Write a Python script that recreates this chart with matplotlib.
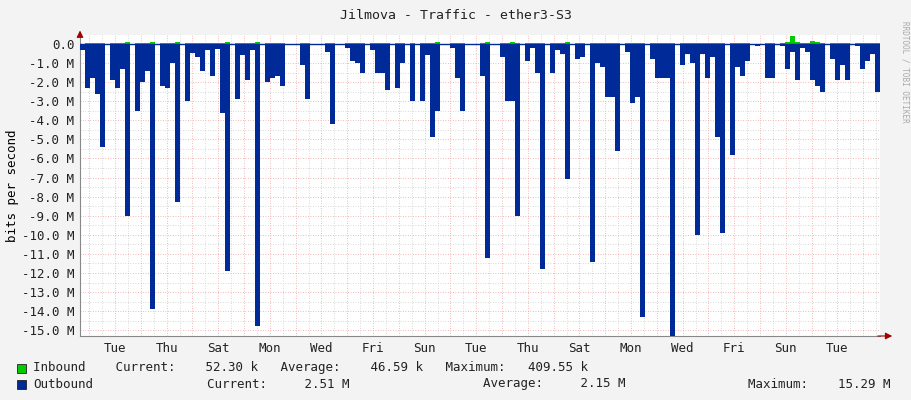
import numpy as np
import matplotlib.pyplot as plt
from matplotlib.ticker import MultipleLocator

# outbound traffic, M bits/s (5px slots), drawn downwards
outbound = [
    0.3, 2.3, 1.8, 2.6, 5.4, 0.0, 1.9, 2.3, 1.3, 9.0,
    0.0, 3.5, 2.0, 1.4, 13.9, 0.0, 2.2, 2.3, 1.0, 8.3,
    0.0, 3.0, 0.45, 0.7, 1.4, 0.3, 1.7, 0.25, 3.6, 11.9,
    0.0, 2.9, 0.6, 1.9, 0.3, 14.8, 0.0, 2.0, 1.8, 1.7,
    2.2, 0.0, 0.0, 0.0, 1.1, 2.9, 0.0, 0.0, 0.0, 0.4,
    4.2, 0.0, 0.0, 0.2, 0.9, 1.0, 1.5, 0.0, 0.3, 1.5,
    1.5, 2.4, 0.0, 2.3, 1.0, 0.0, 3.0, 0.0, 3.0, 0.6,
    4.9, 3.5, 0.0, 0.0, 0.2, 1.8, 3.5, 0.0, 0.0, 0.0,
    1.7, 11.2, 0.0, 0.0, 0.7, 3.0, 3.0, 9.0, 0.0, 0.9,
    0.2, 1.5, 11.8, 0.0, 1.5, 0.3, 0.5, 7.1, 0.0, 0.8,
    0.7, 0.0, 11.4, 1.0, 1.2, 2.8, 2.8, 5.6, 0.0, 0.4,
    3.1, 2.8, 14.3, 0.0, 0.8, 1.8, 1.8, 1.8, 15.3, 0.0,
    1.1, 0.5, 1.0, 10.0, 0.5, 1.8, 0.7, 4.9, 9.9, 0.0,
    5.8, 1.2, 1.7, 0.9, 0.0, 0.1, 0.0, 1.8, 1.8, 0.0,
    0.1, 1.3, 0.4, 1.9, 0.2, 0.4, 1.9, 2.2, 2.5, 0.0,
    0.8, 1.9, 1.1, 1.9, 0.0, 0.1, 1.3, 0.9, 0.5, 2.5,
]
# inbound traffic, M bits/s
inbound = [
    0.0, 0.05, 0.05, 0.05, 0.05, 0.0, 0.05, 0.05, 0.05, 0.1,
    0.0, 0.05, 0.05, 0.05, 0.08, 0.0, 0.05, 0.05, 0.05, 0.08,
    0.0, 0.05, 0.05, 0.05, 0.05, 0.03, 0.05, 0.03, 0.05, 0.08,
    0.0, 0.05, 0.05, 0.05, 0.03, 0.08, 0.0, 0.05, 0.05, 0.05,
    0.05, 0.0, 0.0, 0.0, 0.05, 0.05, 0.0, 0.0, 0.0, 0.03,
    0.05, 0.0, 0.0, 0.03, 0.05, 0.05, 0.05, 0.0, 0.03, 0.05,
    0.05, 0.05, 0.0, 0.05, 0.05, 0.0, 0.05, 0.0, 0.05, 0.05,
    0.05, 0.08, 0.0, 0.0, 0.03, 0.05, 0.05, 0.0, 0.0, 0.0,
    0.05, 0.08, 0.0, 0.0, 0.05, 0.05, 0.08, 0.05, 0.0, 0.05,
    0.03, 0.05, 0.05, 0.0, 0.05, 0.03, 0.05, 0.08, 0.0, 0.05,
    0.05, 0.0, 0.05, 0.05, 0.05, 0.05, 0.05, 0.05, 0.0, 0.03,
    0.05, 0.05, 0.05, 0.0, 0.05, 0.05, 0.05, 0.05, 0.05, 0.0,
    0.05, 0.05, 0.05, 0.05, 0.03, 0.05, 0.05, 0.05, 0.05, 0.0,
    0.05, 0.05, 0.05, 0.05, 0.0, 0.02, 0.0, 0.05, 0.05, 0.0,
    0.05, 0.1, 0.41, 0.1, 0.05, 0.05, 0.15, 0.1, 0.05, 0.0,
    0.05, 0.05, 0.05, 0.05, 0.0, 0.05, 0.05, 0.05, 0.05, 0.05,
]
day_labels = ['Tue', 'Thu', 'Sat', 'Mon', 'Wed', 'Fri', 'Sun', 'Tue',
              'Thu', 'Sat', 'Mon', 'Wed', 'Fri', 'Sun', 'Tue']

day_w = 5.16      # slots per day
first_label = 7.0 # slot position of first label

fig = plt.figure(figsize=(9.11, 4.0), dpi=100, facecolor='#F3F3F3')
ax = fig.add_axes([80 / 911, 64 / 400, 800 / 911, 301 / 400])
ax.set_facecolor('white')

x = np.arange(len(outbound))
ax.bar(x, -np.array(outbound), width=1.0, align='edge', color='#002A97', linewidth=0, zorder=3)
ax.bar(x, inbound, width=1.0, align='edge', color='#00CC00', linewidth=0, zorder=3)
ax.axhline(0, color='#002A97', lw=1, zorder=4)

ax.set_xlim(0, 160)
ax.set_ylim(-15.3, 0.47)

# grid: red major, grey minor
ymaj = np.arange(-15, 0.5, 1.0)
for y in ymaj:
    ax.axhline(y, color='#F0A0A0', lw=0.6, ls=(0, (1, 2)), zorder=1)
for y in ymaj[:-1] + 0.5:
    ax.axhline(y, color='#CCCCCC', lw=0.6, ls=(0, (1, 2)), zorder=1)
days = first_label - day_w + day_w * np.arange(32)
for d in days:
    if 0 < d < 160:
        ax.axvline(d, color='#F0A0A0', lw=0.6, ls=(0, (1, 2)), zorder=1)
    if 0 < d + day_w / 2 < 160:
        ax.axvline(d + day_w / 2, color='#CCCCCC', lw=0.6, ls=(0, (1, 2)), zorder=1)

ax.set_yticks(ymaj)
ax.set_yticklabels(['0.0' if v == 0 else '%.1f M' % v for v in ymaj])
ax.set_xticks(first_label + 2 * day_w * np.arange(len(day_labels)))
ax.set_xticklabels(day_labels)
ax.tick_params(labelsize=9, length=0, pad=4, colors='#222222')
for lab in ax.get_xticklabels() + ax.get_yticklabels():
    lab.set_family('DejaVu Sans Mono')
for s in ['top', 'right']:
    ax.spines[s].set_visible(False)
ax.spines['left'].set_color('#888888')
ax.spines['bottom'].set_color('#888888')
ax.annotate('', xy=(163, -15.3), xytext=(159, -15.3), annotation_clip=False,
            arrowprops=dict(arrowstyle='-|>', color='#A00000', lw=0.8))
ax.annotate('', xy=(0, 0.85), xytext=(0, 0.3), annotation_clip=False,
            arrowprops=dict(arrowstyle='-|>', color='#A00000', lw=0.8))

ax.set_ylabel('bits per second', fontsize=9, family='DejaVu Sans Mono', labelpad=2)
fig.text(0.5, 0.962, 'Jilmova - Traffic - ether3-S3', ha='center', va='center',
         fontsize=9.5, family='DejaVu Sans Mono', color='#222222')
fig.text(0.993, 0.82, 'RRDTOOL / TOBI OETIKER', rotation=270, ha='center', va='center',
         fontsize=5.5, family='DejaVu Sans Mono', color='#AAAAAA')

mono = dict(fontsize=9, family='DejaVu Sans Mono', color='#222222', va='center')
fig.patches.append(plt.Rectangle((17 / 911, 1 - 373 / 400), 9 / 911, 9 / 400, transform=fig.transFigure,
                                 facecolor='#00CC00', edgecolor='#222222', lw=0.6))
fig.patches.append(plt.Rectangle((17 / 911, 1 - 389 / 400), 9 / 911, 9 / 400, transform=fig.transFigure,
                                 facecolor='#002A97', edgecolor='#222222', lw=0.6))
fig.text(33 / 911, 1 - 368 / 400, 'Inbound    Current:    52.30 k   Average:    46.59 k   Maximum:   409.55 k', **mono)
fig.text(33 / 911, 1 - 384 / 400, 'Outbound', **mono)
fig.text(207 / 911, 1 - 384 / 400, 'Current:     2.51 M', **mono)
fig.text(483 / 911, 1 - 384 / 400, 'Average:     2.15 M', **mono)
fig.text(748 / 911, 1 - 384 / 400, 'Maximum:    15.29 M', **mono)

fig.savefig('out.png', dpi=100, facecolor=fig.get_facecolor())
